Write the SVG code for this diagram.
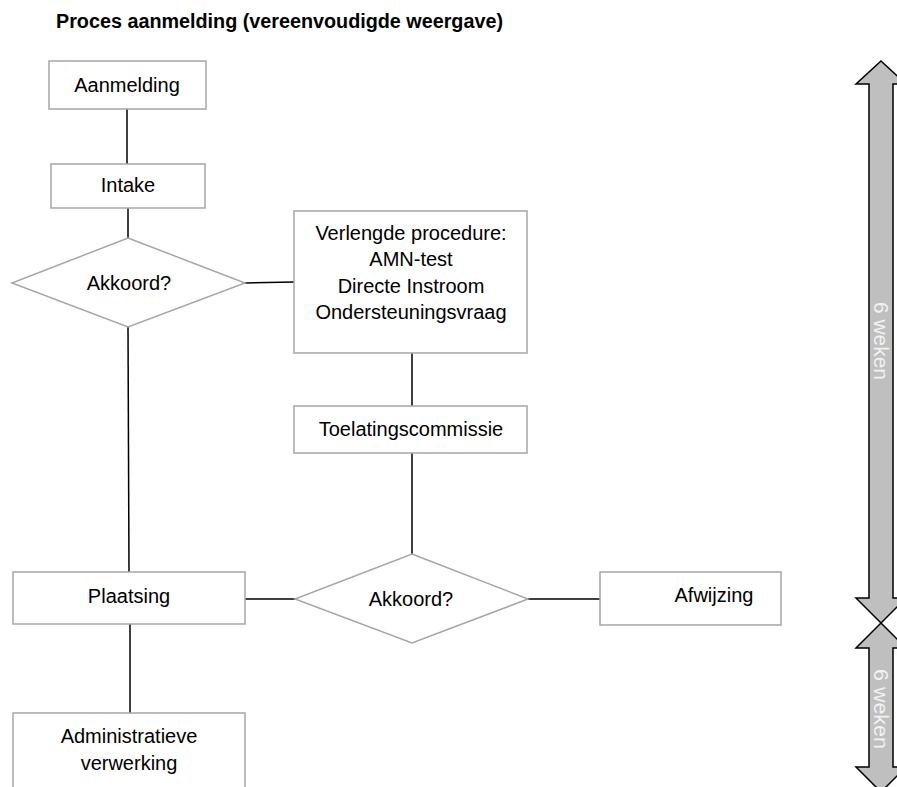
<svg xmlns="http://www.w3.org/2000/svg" width="897" height="787" viewBox="0 0 897 787">
<style>
text{font-family:"Liberation Sans",Arial,sans-serif;font-size:20px;fill:#000;text-anchor:middle}
.title{font-weight:bold;text-anchor:start}
.box{fill:#fff;stroke:#a6a6a6;stroke-width:1.5}
.conn line{stroke:#000;stroke-width:1.5}
.arrow{fill:#bfbfbf;stroke:#000;stroke-width:1.5;stroke-linejoin:miter}
.wk{fill:#f2f2f2;text-anchor:start;font-size:20px}
</style>
<rect width="897" height="787" fill="#fff"/>
<text class="title" x="56" y="28" textLength="447" lengthAdjust="spacingAndGlyphs">Proces aanmelding (vereenvoudigde weergave)</text>
<g id="connectors" class="conn">
<line x1="127" y1="109" x2="127" y2="164"/>
<line x1="128" y1="208" x2="128" y2="238"/>
<line x1="128" y1="327" x2="129" y2="572"/>
<line x1="245" y1="283" x2="294" y2="282"/>
<line x1="412" y1="353" x2="412" y2="406"/>
<line x1="412" y1="453" x2="412" y2="554"/>
<line x1="245" y1="599" x2="295" y2="599"/>
<line x1="528" y1="599" x2="600" y2="599"/>
<line x1="130" y1="624" x2="130" y2="713"/>
</g>
<g id="aanmelding"><rect class="box" x="49" y="61" width="157" height="48"/><text x="127" y="92">Aanmelding</text></g>
<g id="intake"><rect class="box" x="51" y="164" width="154" height="44"/><text x="128" y="192">Intake</text></g>
<g id="akkoord1"><polygon class="box" points="128,238 245,283 128,327 12,283"/><text x="129" y="290">Akkoord?</text></g>
<g id="verlengde"><rect class="box" x="294" y="211" width="233" height="142"/>
<text x="411" y="240">Verlengde procedure:</text>
<text x="411" y="266">AMN-test</text>
<text x="411" y="293">Directe Instroom</text>
<text x="411" y="319">Ondersteuningsvraag</text></g>
<g id="toelating"><rect class="box" x="294" y="406" width="233" height="47"/><text x="411" y="436">Toelatingscommissie</text></g>
<g id="akkoord2"><polygon class="box" points="412,554 528,599 412,643 295,599"/><text x="411" y="606">Akkoord?</text></g>
<g id="afwijzing"><rect class="box" x="600" y="572" width="181" height="53"/><text x="714" y="602">Afwijzing</text></g>
<g id="plaatsing"><rect class="box" x="13" y="572" width="232" height="52"/><text x="129" y="603">Plaatsing</text></g>
<g id="administratie"><rect class="box" x="13" y="713" width="232" height="90"/><text x="129" y="743">Administratieve</text><text x="129" y="770">verwerking</text></g>
<g id="periode1"><polygon class="arrow" points="881,61 906,84 893,84 893,598 906,598 881,623 856,598 869,598 869,84 856,84"/>
<text class="wk" transform="translate(874,302) rotate(90)" textLength="78" lengthAdjust="spacingAndGlyphs">6 weken</text></g>
<g id="periode2"><polygon class="arrow" points="881,623 906,648 893,648 893,767 906,767 881,792 856,767 869,767 869,648 856,648"/>
<text class="wk" transform="translate(874,669) rotate(90)" textLength="80" lengthAdjust="spacingAndGlyphs">6 weken</text></g>
</svg>
